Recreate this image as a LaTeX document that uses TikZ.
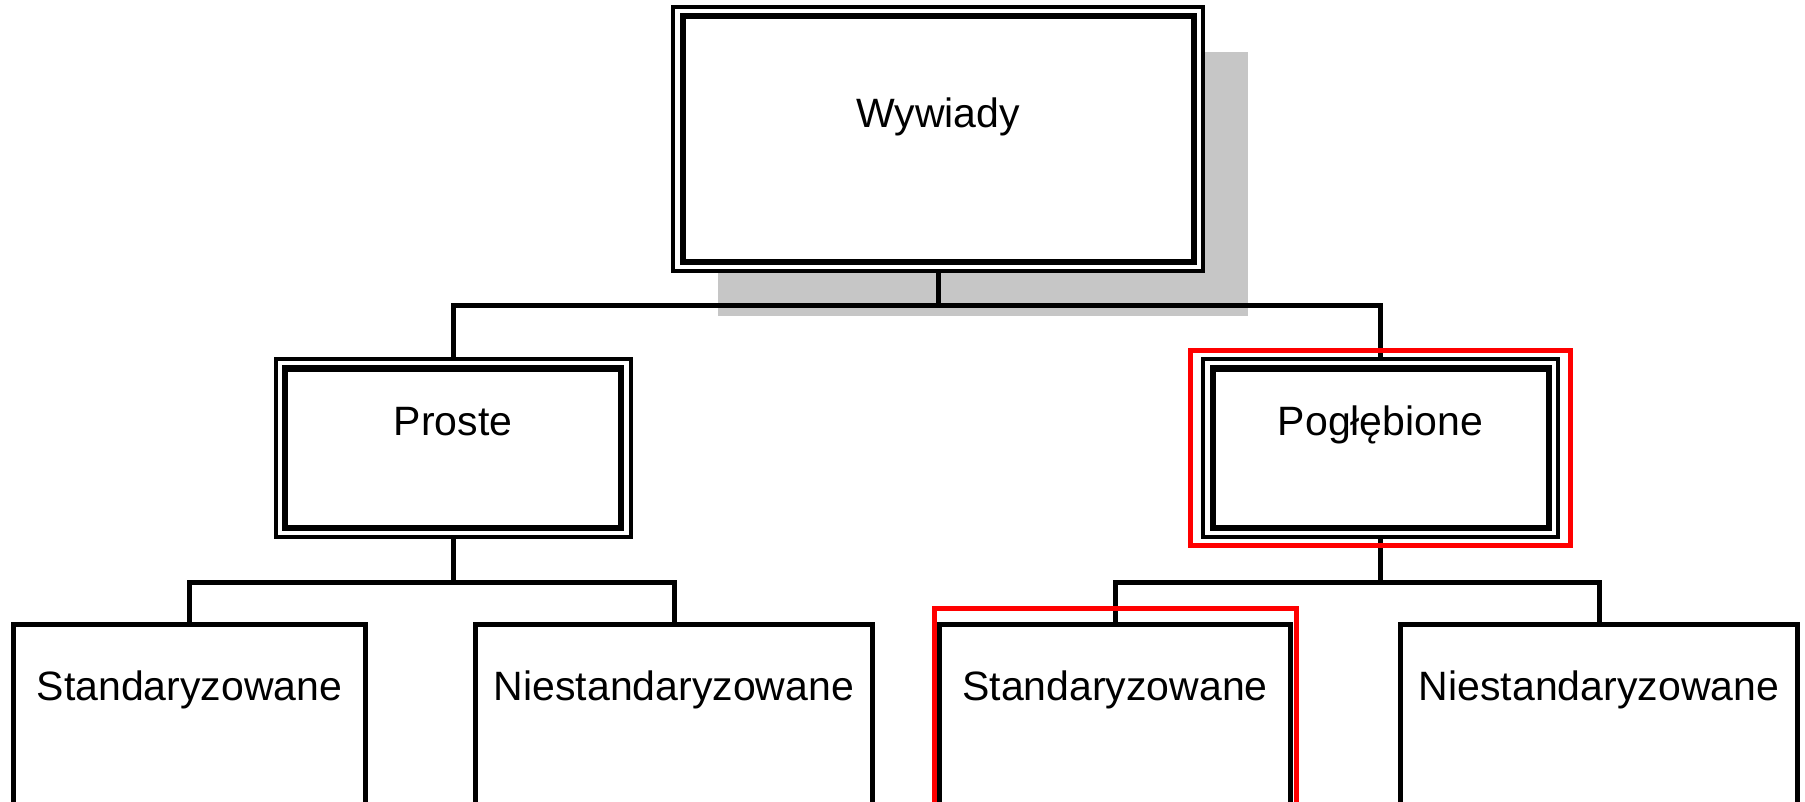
\documentclass[tikz,border=0pt]{standalone}
\usepackage{fontspec}
\setmainfont{Liberation Sans}
\usepackage{tikz}
\usetikzlibrary{positioning,fit,shadows}
\definecolor{mygray}{RGB}{198,198,198}
\definecolor{myred}{RGB}{255,0,0}

\begin{document}
\begin{tikzpicture}[x=0.5pt,y=-0.5pt,
	every node/.style={draw,rectangle,inner sep=0pt,font=\fontsize{20.5}{24}\selectfont},
	topnode/.style={anchor=north,line width=2pt,fill=white,minimum width=265pt,
		text height=60.5pt,text depth=71.75pt,
		drop shadow={shadow xshift=22.5pt,shadow yshift=-22.5pt,fill=mygray,opacity=1}},
	midnode/.style={anchor=north,line width=2pt,fill=white,minimum width=177.5pt,
		text height=38.25pt,text depth=50.75pt},
	inframe/.style={anchor=center,line width=3pt,inner sep=-5.75pt},
	leafnode/.style={anchor=north,line width=2.5pt,fill=white,
		text height=37.75pt,text depth=100pt},
	hilite/.style={anchor=center,myred,line width=2.5pt},
	conn/.style={line width=2.5pt}
	]
	
	\useasboundingbox (0,0) rectangle (1805,802);
	\clip (0,0) rectangle (1805,802);
	
	% the root
	\node[topnode] (wyw) at (938,5) {Wywiady};
	\node[inframe,fit=(wyw)] (wywin) {};
	
	% the second level
	\node[midnode] (pro) at (453,357) {Proste};
	\node[inframe,fit=(pro)] (proin) {};
	\node[midnode] (pog) at (1380.5,357) {Pogłębione};
	\node[inframe,fit=(pog)] (pogin) {};
	
	% the leaves
	\node[leafnode,minimum width=176pt] (st1) at (189.5,622) {Standaryzowane};
	\node[leafnode,minimum width=198.5pt] (ns1) at (674,622) {Niestandaryzowane};
	\node[leafnode,minimum width=175.5pt] (st2) at (1115,622) {Standaryzowane};
	\node[leafnode,minimum width=198.5pt] (ns2) at (1599,622) {Niestandaryzowane};
	
	% the junctions
	\coordinate (jw) at (938,305.5);
	\coordinate (jp) at (453,582.5);
	\coordinate (jg) at (1380.5,582.5);
	
	% the edges
	\draw[conn] (wyw.south) -- (jw);
	\draw[conn] (pro.north) |- (jw) -| (pog.north);
	\draw[conn] (pro.south) -- (jp);
	\draw[conn] (st1.north) |- (jp) -| (ns1.north);
	\draw[conn] (pog.south) -- (jg);
	\draw[conn] (st2.north) |- (jg) -| (ns2.north);
	
	% the marks
	\node[hilite,fit=(pog),inner xsep=5.1pt,inner ysep=3.4pt] (pogmark) {};
	\node[hilite,fit=(st2),inner xsep=1.5pt,inner ysep=6.75pt] (st2mark) {};
\end{tikzpicture}
\end{document}
